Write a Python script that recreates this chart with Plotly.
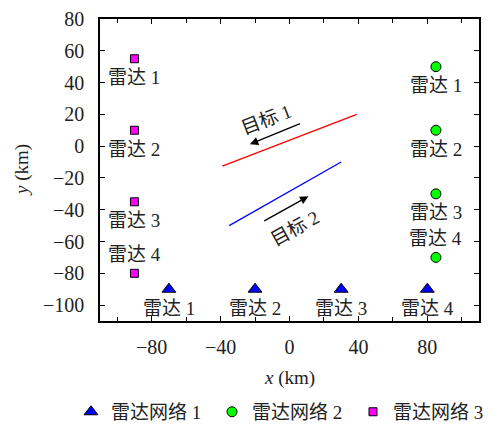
import plotly.graph_objects as go

# Radar network 1 (blue triangles)
net1_x = [-70, -20, 30, 80]
net1_y = [-90, -90, -90, -90]
net1_labels = ["雷达 1", "雷达 2", "雷达 3", "雷达 4"]
net1_side = ["below", "below", "below", "below"]

# Radar network 2 (green circles)
net2_x = [85, 85, 85, 85]
net2_y = [50, 10, -30, -70]
net2_labels = ["雷达 1", "雷达 2", "雷达 3", "雷达 4"]
net2_side = ["below", "below", "below", "above"]

# Radar network 3 (magenta squares)
net3_x = [-90, -90, -90, -90]
net3_y = [55, 10, -35, -80]
net3_labels = ["雷达 1", "雷达 2", "雷达 3", "雷达 4"]
net3_side = ["below", "below", "below", "above"]

# Target tracks
target1_x = [-39, 39]
target1_y = [-12.5, 20]
target2_x = [-35, 30]
target2_y = [-50, -10]

# Arrows (tail -> head) and labels
arrow1 = {"tail": (7, 14.5), "head": (-23, 1.2)}
arrow2 = {"tail": (-15.5, -47.5), "head": (11, -31.5)}
label1 = {"text": "目标 1", "pos": (-13.5, 17), "angle": -21}
label2 = {"text": "目标 2", "pos": (3, -52), "angle": -29}

legend_names = ["雷达网络 1", "雷达网络 2", "雷达网络 3"]

FONT = "Liberation Serif, Noto Sans CJK SC, serif"
FS = 19
TICKFS = 20
TXT = "#222"

fig = go.Figure()

fig.add_trace(go.Scatter(x=target1_x, y=target1_y, mode="lines",
                         line=dict(color="red", width=1.3), showlegend=False))
fig.add_trace(go.Scatter(x=target2_x, y=target2_y, mode="lines",
                         line=dict(color="blue", width=1.3), showlegend=False))

nets = [
    (net1_x, net1_y, net1_labels, net1_side, legend_names[0],
     dict(symbol="triangle-up", size=12, color="blue")),
    (net2_x, net2_y, net2_labels, net2_side, legend_names[1],
     dict(symbol="circle", size=10, color="#00ff00")),
    (net3_x, net3_y, net3_labels, net3_side, legend_names[2],
     dict(symbol="square", size=8, color="#ff00ff")),
]
for xs, ys, labs, sides, name, mk in nets:
    fig.add_trace(go.Scatter(
        x=xs, y=ys, mode="markers", name=name,
        marker=dict(line=dict(color="black", width=1), **mk)))
    for xv, yv, lab, side in zip(xs, ys, labs, sides):
        fig.add_annotation(x=xv, y=yv, text=lab, showarrow=False,
                           xref="x", yref="y", xanchor="center",
                           yanchor="middle",
                           yshift=(-19 if side == "below" else 19),
                           font=dict(family=FONT, size=FS, color=TXT))

for arr in (arrow1, arrow2):
    fig.add_annotation(x=arr["head"][0], y=arr["head"][1],
                       ax=arr["tail"][0], ay=arr["tail"][1],
                       xref="x", yref="y", axref="x", ayref="y",
                       showarrow=True, arrowhead=2, arrowsize=1.2,
                       arrowwidth=1.4, arrowcolor="black", text="")
for lab in (label1, label2):
    fig.add_annotation(x=lab["pos"][0], y=lab["pos"][1], text=lab["text"],
                       showarrow=False, textangle=lab["angle"],
                       font=dict(family=FONT, size=FS, color=TXT))

# axis titles
fig.add_annotation(x=0.5, y=0, xref="paper", yref="paper", yshift=-57,
                   text="<i>x</i> (km)", showarrow=False, yanchor="middle",
                   font=dict(family=FONT, size=FS, color=TXT))
fig.add_annotation(x=0, y=0.5, xref="paper", yref="paper", xshift=-78,
                   text="<i>y</i> (km)", showarrow=False, textangle=-90,
                   xanchor="center", yanchor="middle",
                   font=dict(family=FONT, size=FS, color=TXT))

axis_common = dict(showline=True, linecolor="black", linewidth=1.5,
                   mirror="ticks", ticks="inside", ticklen=5, tickwidth=1,
                   tickcolor="black", showgrid=False, zeroline=False,
                   automargin=False,
                   tickfont=dict(family=FONT, size=TICKFS, color=TXT))

fig.update_xaxes(range=[-110, 110], tick0=0, dtick=40, ticklabelstandoff=7,
                 minor=dict(ticks="inside", dtick=20, tick0=0, ticklen=4,
                            tickcolor="black"),
                 **axis_common)
fig.update_yaxes(range=[-110, 80], tick0=0, dtick=20, ticklabelstandoff=10,
                 **axis_common)

fig.update_layout(
    width=485, height=417,
    margin=dict(l=92, r=14, t=11, b=104, autoexpand=False),
    plot_bgcolor="white", paper_bgcolor="white",
    legend=dict(orientation="h", xref="paper", x=-0.0765, xanchor="left",
                yref="paper", y=-0.301, yanchor="middle",
                font=dict(family=FONT, size=FS, color=TXT),
                itemwidth=30, entrywidthmode="pixels", entrywidth=96,
                tracegroupgap=0),
)

fig.write_html("out.html")
